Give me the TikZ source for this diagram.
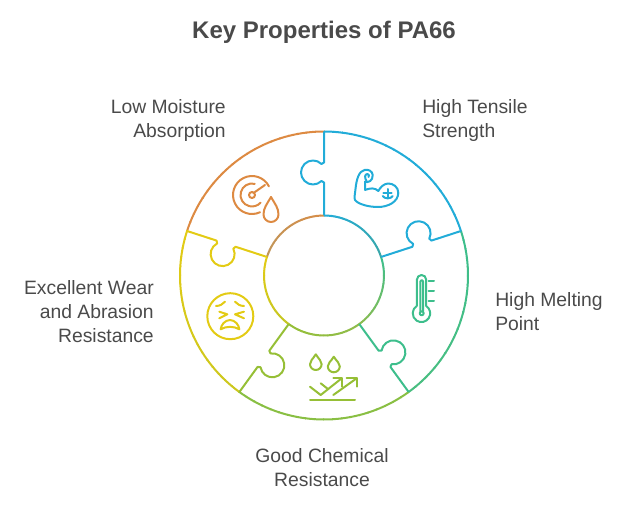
\documentclass[tikz,border=0pt]{standalone}
\usepackage{fontspec}
\setmainfont{Liberation Sans}
\usepackage{xcolor}
\usetikzlibrary{calc}
\definecolor{inkgray}{HTML}{4a4a4a}
\definecolor{moistorange}{HTML}{dd8a42}
\definecolor{tensileblue}{HTML}{22acd8}
\definecolor{meltgreen}{HTML}{3dbe8c}
\definecolor{chemlime}{HTML}{96bf36}
\definecolor{wearyellow}{HTML}{e3cb14}
\definecolor{innerbrown}{HTML}{c0965a}
\definecolor{innerteal}{HTML}{3aa6a6}
\definecolor{innerolive}{HTML}{8fbc4c}

\begin{document}
\begin{tikzpicture}[
  x=0.75pt,y=0.75pt,
  ring/.style={line width=1.5pt},
  seam/.style={line width=1.5pt,line join=round},
  icon/.style={line width=1.5pt,line cap=round,line join=round},
  label/.style={text=inkgray,font=\fontsize{14.5}{18}\selectfont,inner sep=0pt},
  titlelabel/.style={text=inkgray,font=\fontsize{18}{22}\selectfont\bfseries,inner sep=0pt},
]
\useasboundingbox (0,0) rectangle (636,504);
\coordinate (hub) at (324,228.5);

% Title
\node[titlelabel] (title) at (324,471.5) {Key Properties of PA66};

% Outer and inner rings, stepped so the colour can drift
\foreach \from/\to/\rad/\colA/\colB in {
    162/90/144/moistorange/moistorange,
    90/18/144/tensileblue/tensileblue,
    18/-54/144/meltgreen/meltgreen!85!chemlime,
    -54/-126/144/chemlime!85!meltgreen/chemlime,
    -126/-198/144/chemlime!30!wearyellow/wearyellow,
    162/90/60/innerbrown/moistorange!80!innerbrown,
    90/18/60/tensileblue/innerteal,
    18/-54/60/meltgreen/innerolive,
    -54/-126/60/innerolive/chemlime,
    -126/-198/60/chemlime!40!wearyellow/wearyellow}{
  \foreach \p in {0,5,...,95}{
    \pgfmathsetmacro{\begang}{\from+(\to-\from)*\p/100}
    \pgfmathsetmacro{\endang}{\from+(\to-\from)*(\p+5.5)/100}
    \draw[ring,\colB!\p!\colA] (hub) ++(\begang:\rad) arc (\begang:\endang:\rad);
  }
}

% Puzzle seams
\foreach \ang/\col in {90/tensileblue,18/tensileblue,-54/meltgreen,-126/chemlime,162/wearyellow}{
  \begin{scope}[shift={(hub)},rotate=\ang]
    \draw[seam,\col] (144,0) -- (113,0) -- (111.5,2.5) arc (-45:225:12) -- (93,0) -- (60,0);
  \end{scope}
}

% Gauge and droplet
\begin{scope}[icon,moistorange]
  \draw (252,309) circle (3);
  \draw (252,309) ++(27:19) arc (27:295:19);
  \draw (252,309) ++(76:11.5) arc (76:318:11.5);
  \draw (253.5,311) -- (265,319);
  \draw (271,307) .. controls (267,300) and (263.5,296) .. (263.5,289.5) arc (180:360:7.5) .. controls (278.5,296) and (275,300) .. (271,307);
\end{scope}

% Flexed arm with anchor
\begin{scope}[icon,tensileblue]
  \draw (365,314) -- (365,322.3) .. controls (368,321) and (373,323) .. (372.7,329)
    .. controls (372.5,333) and (368,335) .. (364.5,334) .. controls (359,333) and (356.5,325) .. (355.5,315)
    .. controls (355,310) and (354,306) .. (355,304) .. controls (358,300) and (368,297) .. (378,297)
    .. controls (388,297) and (398,302) .. (398.3,311) .. controls (398.5,317) and (393,320.7) .. (388,320.5)
    .. controls (384,320.3) and (380.5,317) .. (378.3,313) .. controls (375,316.5) and (370,316) .. (365,314);
  \draw (366.5,323) .. controls (364.5,326) and (364.5,330) .. (367.5,330) .. controls (369,330) and (369.5,328) .. (368.5,327);
  \draw (387.7,315) -- (387.7,305.7);
  \draw (383.3,310.7) -- (391.7,310.7);
  \draw (382.7,308) .. controls (383.5,306.5) and (385.5,305.7) .. (387.7,305.7) .. controls (390,305.7) and (392,306.5) .. (392.7,308);
\end{scope}

% Thermometer
\begin{scope}[icon,meltgreen]
  \draw (416.9,198) -- (416.9,224.35) arc (180:0:4.65) -- (426.2,198) arc (57:-237:8.74);
  \draw (421.7,190.7) circle (2);
  \draw (420.4,193) -- (420.4,222.7) arc (180:0:1.3) -- (423,193);
  \foreach \tick in {223,213,203}{
    \draw (428.5,\tick) -- (434,\tick);
  }
\end{scope}

% Tired face
\begin{scope}[icon,wearyellow]
  \draw (230.3,187.8) circle (23);
  \draw (216,198) .. controls (220,198) and (223,200) .. (225,202.3);
  \draw (235,202.3) .. controls (237,200) and (240,198) .. (244,198);
  \draw (219.3,192.3) -- (227.3,189.7) -- (219.3,185.7);
  \draw (244,192.3) -- (235,189.7) -- (244,185.7);
  \draw (220.7,174.7) .. controls (221,179) and (225,184) .. (230,184) .. controls (235,184) and (239,179) .. (239.3,174.7)
    .. controls (234,178) and (226,178) .. (220.7,174.7);
\end{scope}

% Droplets and rising arrows
\begin{scope}[icon,chemlime]
  \draw (315.8,149.7) .. controls (312.5,144.5) and (310,143) .. (310,139.8) arc (180:360:5.8) .. controls (321.6,143) and (319.1,144.5) .. (315.8,149.7);
  \draw (333.8,147.3) .. controls (330.5,142) and (327.8,141) .. (327.8,137.7) arc (180:360:6) .. controls (339.8,141) and (337.1,142) .. (333.8,147.3);
  \draw (310,117.3) -- (320.7,109) -- (341.7,125.7);
  \draw (333.3,125.7) -- (341.7,125.7) -- (341.7,117.3);
  \draw (320.7,120.7) -- (328.3,114.7);
  \draw (333.3,109) -- (356.7,125.7);
  \draw (346.7,125.7) -- (356.7,125.7) -- (356.7,117.3);
  \draw (310,104) -- (355,104);
\end{scope}

% Labels
\node[label,align=right,anchor=east] (moist) at (226,383) {Low Moisture\\Absorption};
\node[label,align=left,anchor=west] (tensile) at (422,383) {High Tensile\\Strength};
\node[label,align=left,anchor=west] (melt) at (495,192) {High Melting\\Point};
\node[label,align=center] (chem) at (322,36) {Good Chemical\\Resistance};
\node[label,align=right,anchor=east] (wear) at (154,192) {Excellent Wear\\and Abrasion\\Resistance};

\end{tikzpicture}
\end{document}
